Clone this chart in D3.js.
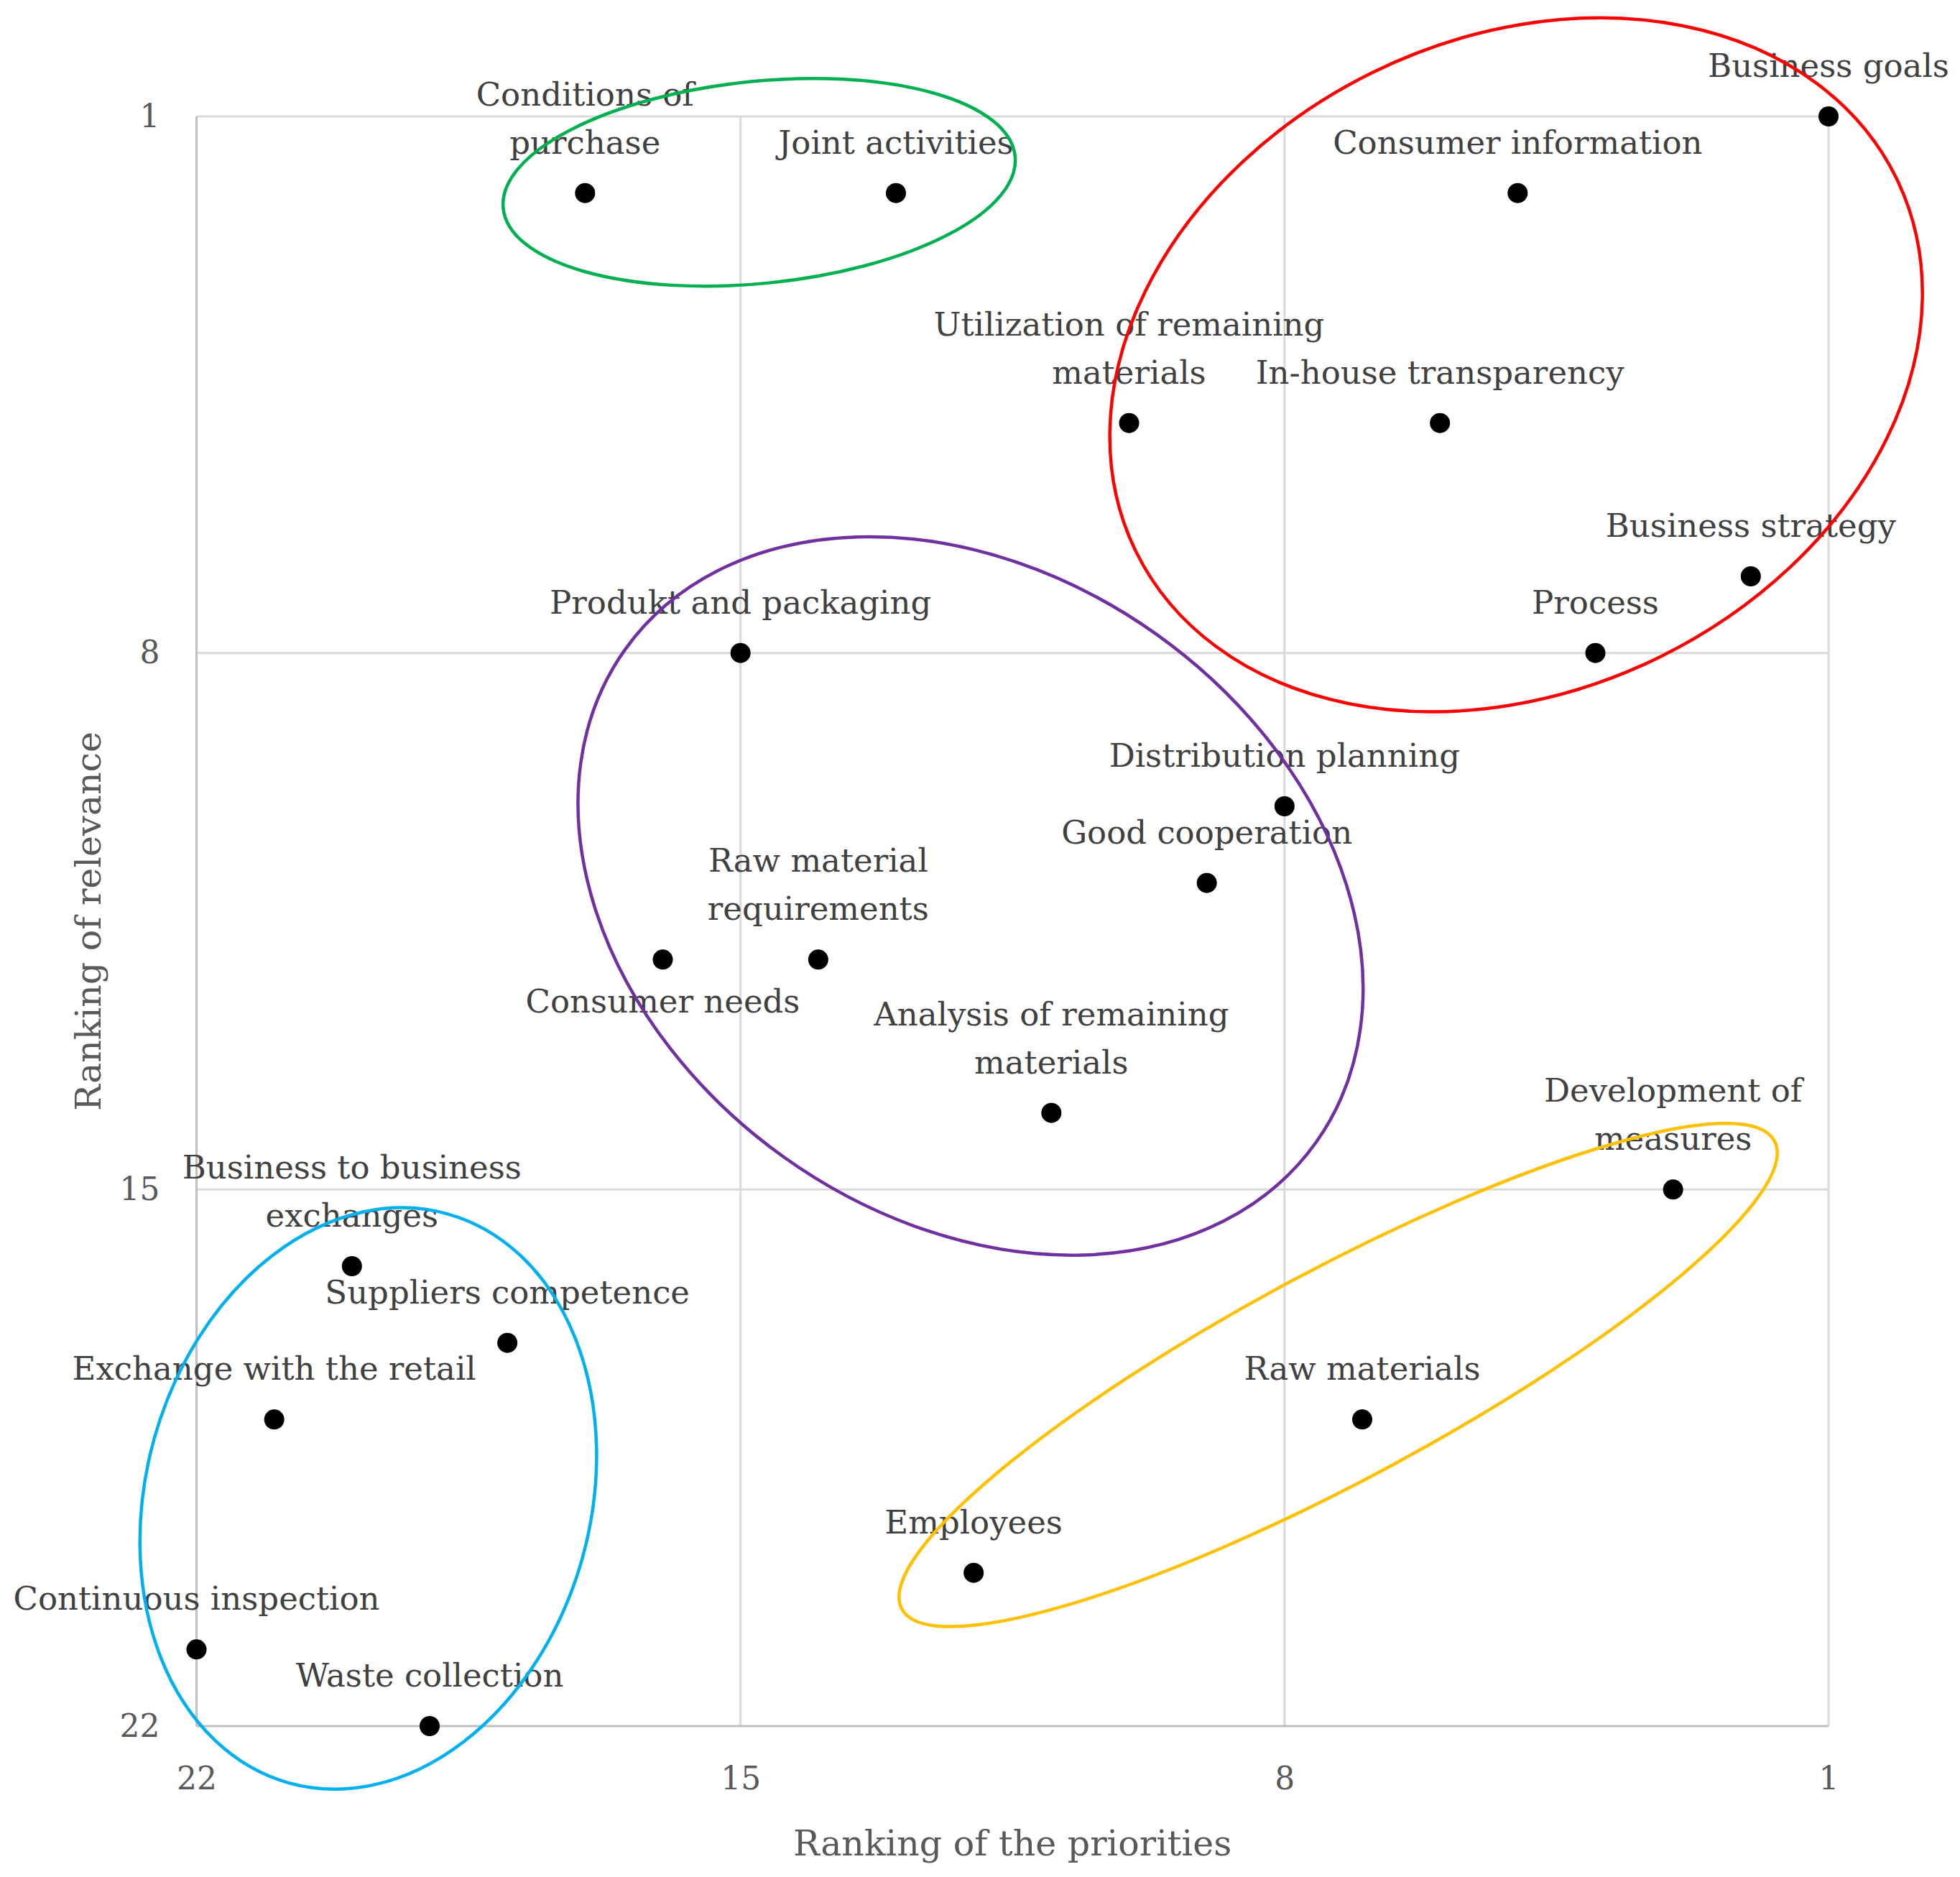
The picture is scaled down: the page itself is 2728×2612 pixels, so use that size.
<!DOCTYPE html>
<html>
<head>
<meta charset="utf-8">
<script src="https://cdn.jsdelivr.net/npm/d3@7"></script>
<style>
  html, body { margin: 0; padding: 0; background: #ffffff; }
  svg { display: block; }
</style>
</head>
<body>
<div id="chart"></div>
<script>
// ---------- data ----------
const categories = [
  "Business goals", "Consumer information", "Conditions of\npurchase", "Joint activities",
  "Utilization of remaining\nmaterials", "In-house transparency", "Business strategy", "Process",
  "Produkt and packaging", "Distribution planning", "Good cooperation", "Consumer needs",
  "Raw material\nrequirements", "Analysis of remaining\nmaterials", "Development of\nmeasures",
  "Business to business\nexchanges", "Suppliers competence", "Exchange with the retail",
  "Raw materials", "Employees", "Continuous inspection", "Waste collection"
];
const priorityRank  = [1, 5, 17, 13, 10, 6, 2, 4, 15, 8, 9, 16, 14, 11, 3, 20, 18, 21, 7, 12, 22, 19];
const relevanceRank = [1, 2, 2, 2, 5, 5, 7, 8, 8, 10, 11, 12, 12, 14, 15, 16, 17, 18, 18, 20, 21, 22];
const labelsBelow = ["Consumer needs"];

const xTicks = [22, 15, 8, 1];
const yTicks = [1, 8, 15, 22];
const xTitle = "Ranking of the priorities";
const yTitle = "Ranking of relevance";

// cluster outlines (centre in rank units, semi-axes in rank units, angle in degrees)
const clusterNames  = ["green", "red", "purple", "blue", "yellow"];
const clusterColors = ["#00B050", "#FF0000", "#7030A0", "#00B0F0", "#FFC000"];
const clusterCx     = [14.76, 5.02, 12.04, 19.79, 7.31];
const clusterCy     = [1.86, 4.24, 11.17, 19.03, 17.42];
const clusterA      = [3.31, 5.45, 5.46, 3.80, 6.37];
const clusterB      = [1.30, 4.19, 4.13, 2.86, 1.35];
const clusterAngle  = [-5.8, -26.2, 35.5, -74.4, -28.2];

// ---------- layout ----------
const W = 2728, H = 2612;
const mLeft = 273.5, mRight = 2545, mTop = 162, mBottom = 2402;
const FONT = "'DejaVu Serif', serif";

const svg = d3.select("#chart").append("svg")
  .attr("width", W).attr("height", H)
  .attr("viewBox", `0 0 ${W} ${H}`);

const x = d3.scaleLinear().domain([22, 1]).range([mLeft, mRight]);
const y = d3.scaleLinear().domain([1, 22]).range([mTop, mBottom]);

// gridlines
const grid = svg.append("g");
grid.selectAll("line.h").data(yTicks.filter(d => d !== 22)).join("line")
  .attr("x1", x(22)).attr("x2", x(1))
  .attr("y1", d => y(d)).attr("y2", d => y(d))
  .attr("stroke", "#d9d9d9").attr("stroke-width", 3);
grid.selectAll("line.v").data(xTicks.filter(d => d !== 22)).join("line")
  .attr("y1", y(1)).attr("y2", y(22))
  .attr("x1", d => x(d)).attr("x2", d => x(d))
  .attr("stroke", "#d9d9d9").attr("stroke-width", 3);
// axis lines
svg.append("line").attr("x1", x(22)).attr("x2", x(22)).attr("y1", y(1)).attr("y2", y(22))
  .attr("stroke", "#bfbfbf").attr("stroke-width", 3);
svg.append("line").attr("x1", x(22)).attr("x2", x(1)).attr("y1", y(22)).attr("y2", y(22))
  .attr("stroke", "#bfbfbf").attr("stroke-width", 3);

// axes (labels only)
const xAxis = svg.append("g").attr("transform", `translate(0,${mBottom})`)
  .call(d3.axisBottom(x).tickValues(xTicks).tickSize(0).tickPadding(57).tickFormat(d3.format("d")));
const yAxis = svg.append("g").attr("transform", `translate(${mLeft},0)`)
  .call(d3.axisLeft(y).tickValues(yTicks).tickSize(0).tickPadding(51).tickFormat(d3.format("d")));
[xAxis, yAxis].forEach(g => {
  g.select(".domain").remove();
  g.selectAll("text").attr("font-family", FONT).attr("font-size", 44).attr("fill", "#595959");
});

// axis titles
svg.append("text").attr("x", (mLeft + mRight) / 2).attr("y", 2582)
  .attr("text-anchor", "middle").attr("font-family", FONT).attr("font-size", 49)
  .attr("fill", "#595959").text(xTitle);
svg.append("text").attr("transform", `translate(140,${(mTop + mBottom) / 2}) rotate(-90)`)
  .attr("text-anchor", "middle").attr("font-family", FONT).attr("font-size", 49)
  .attr("fill", "#595959").text(yTitle);

// points
const pts = categories.map((c, i) => ({ name: c, px: priorityRank[i], ry: relevanceRank[i] }));

svg.append("g").selectAll("circle").data(pts).join("circle")
  .attr("cx", d => x(d.px)).attr("cy", d => y(d.ry)).attr("r", 14)
  .attr("fill", "#000000");

// labels
const lab = svg.append("g").attr("font-family", FONT).attr("font-size", 45).attr("fill", "#404040")
  .attr("text-anchor", "middle");
pts.forEach(d => {
  const lines = d.name.split("\n");
  const below = labelsBelow.includes(d.name);
  const t = lab.append("text");
  lines.forEach((ln, k) => {
    let by;
    if (below) by = y(d.ry) + 74 + k * 67;
    else by = y(d.ry) - 55 - (lines.length - 1 - k) * 67;
    t.append("tspan").attr("x", x(d.px)).attr("y", by).text(ln);
  });
});

// cluster ellipses
const unit = Math.abs(x(1) - x(2));
svg.append("g").selectAll("ellipse").data(clusterNames).join("ellipse")
  .attr("cx", (d, i) => x(clusterCx[i]))
  .attr("cy", (d, i) => y(clusterCy[i]))
  .attr("rx", (d, i) => clusterA[i] * unit)
  .attr("ry", (d, i) => clusterB[i] * unit)
  .attr("transform", (d, i) => `rotate(${clusterAngle[i]},${x(clusterCx[i])},${y(clusterCy[i])})`)
  .attr("fill", "none")
  .attr("stroke", (d, i) => clusterColors[i])
  .attr("stroke-width", 4.5);
</script>
</body>
</html>
